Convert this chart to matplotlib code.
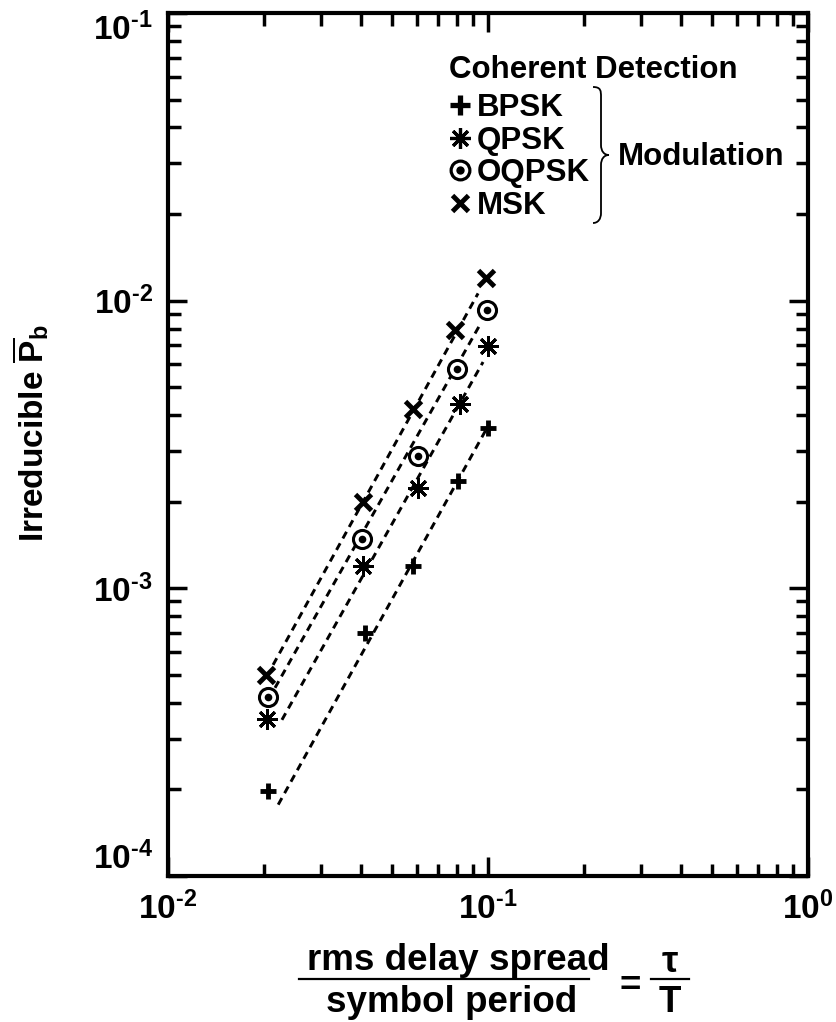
import math
import matplotlib
matplotlib.use("Agg")
import matplotlib.pyplot as plt
from matplotlib.lines import Line2D
from matplotlib.path import Path
from matplotlib.patches import PathPatch
from matplotlib.ticker import FixedLocator, FuncFormatter, LogLocator, NullFormatter

plt.rcParams['font.family'] = ['Liberation Sans', 'DejaVu Sans']
plt.rcParams['font.weight'] = 'bold'
plt.rcParams['mathtext.fontset'] = 'custom'
plt.rcParams['mathtext.rm'] = 'Liberation Sans:bold'
plt.rcParams['mathtext.bf'] = 'Liberation Sans:bold'
plt.rcParams['mathtext.it'] = 'Liberation Sans:bold:italic'
plt.rcParams['mathtext.sf'] = 'Liberation Sans:bold'

# data: tau/T vs irreducible Pb
bpsk_x = [0.0205, 0.0413, 0.0583, 0.0806, 0.100]
bpsk_y = [1.98e-4, 7.0e-4, 1.20e-3, 2.36e-3, 3.62e-3]
qpsk_x = [0.0204, 0.0406, 0.0604, 0.0817, 0.100]
qpsk_y = [3.5e-4, 1.20e-3, 2.24e-3, 4.37e-3, 6.95e-3]
oqpsk_x = [0.0205, 0.0403, 0.0604, 0.0799, 0.0993]
oqpsk_y = [4.2e-4, 1.48e-3, 2.88e-3, 5.8e-3, 9.3e-3]
msk_x = [0.0202, 0.0406, 0.0583, 0.0787, 0.0986]
msk_y = [5.0e-4, 2.0e-3, 4.2e-3, 7.9e-3, 1.2e-2]

# dashed fit lines (start / end), order: BPSK, QPSK, OQPSK, MSK
fit_x0 = [0.0221, 0.0227, 0.0216, 0.0213]
fit_y0 = [1.77e-4, 3.49e-4, 4.51e-4, 5.42e-4]
fit_x1 = [0.0986, 0.0965, 0.0951, 0.0931]
fit_y1 = [3.56e-3, 6.12e-3, 8.37e-3, 1.06e-2]

labels = ['BPSK', 'QPSK', 'OQPSK', 'MSK']

W, H = 836, 1022
fig = plt.figure(figsize=(W / 100, H / 100), dpi=100)
ax = fig.add_axes([168 / W, 1 - 876 / H, (808 - 168) / W, (876 - 13) / H])
ax.set_xscale('log')
ax.set_yscale('log')
ax.set_xlim(1e-2, 1e0)
ax.set_ylim(1e-4, 1e-1)

dash = (0, (2.6, 1.9))
for x0, y0, x1, y1 in zip(fit_x0, fit_y0, fit_x1, fit_y1):
    ax.plot([x0, x1], [y0, y1], color='black', lw=2.1, linestyle=dash)

k = 'black'
ax.plot(bpsk_x, bpsk_y, ls='none', marker='+', ms=12, mew=3.5, color=k)
ax.plot(qpsk_x, qpsk_y, ls='none', marker=(8, 2, 0), ms=15, mew=2.1, color=k)
ax.plot(oqpsk_x, oqpsk_y, ls='none', marker='o', ms=13, mew=2.2, mfc='white', mec=k)
ax.plot(oqpsk_x, oqpsk_y, ls='none', marker='o', ms=5.5, mew=0, color=k)
ax.plot(msk_x, msk_y, ls='none', marker='x', ms=11, mew=3.5, color=k)


def decade_label(v, pos):
    return r'$\mathbf{10^{\text{-%d}}}$' % abs(round(math.log10(v))) if v < 1 else r'$\mathbf{10^{0}}$'


# ticks
for axis in (ax.xaxis, ax.yaxis):
    axis.set_minor_locator(LogLocator(base=10, subs=range(2, 10)))
    axis.set_minor_formatter(NullFormatter())
ax.xaxis.set_major_locator(FixedLocator([1e-2, 1e-1, 1e0]))
ax.yaxis.set_major_locator(FixedLocator([1e-4, 1e-3, 1e-2, 1e-1]))
ax.xaxis.set_major_formatter(FuncFormatter(decade_label))
ax.yaxis.set_major_formatter(FuncFormatter(decade_label))
ax.tick_params(which='both', direction='in', top=True, right=True, width=2.5, color=k)
ax.tick_params(which='major', length=14, labelsize=24, pad=11)
ax.tick_params(which='minor', length=9)
for s in ax.spines.values():
    s.set_linewidth(3)

yticks = ax.yaxis.get_major_ticks()
yticks[-1].label1.set_verticalalignment('top')
yticks[0].label1.set_verticalalignment('bottom')


def fx(px):
    return px / W


def fy(py):
    return 1 - py / H


# y label
fig.text(fx(31), fy(433), r'Irreducible $\overline{\mathrm{P}}_\mathrm{b}$', rotation=90,
         ha='center', va='center', fontsize=24, fontweight='bold')

# x label as fraction
fs = 26.5
fig.text(fx(458), fy(970), 'rms delay spread', ha='center', va='baseline', fontsize=fs)
fig.text(fx(452), fy(1012), 'symbol period', ha='center', va='baseline', fontsize=fs)
fig.add_artist(Line2D([fx(299), fx(589)], [fy(979), fy(979)], color=k, lw=1.6,
                      transform=fig.transFigure))
fig.text(fx(630), fy(986), '=', ha='center', va='center', fontsize=fs)
fig.text(fx(670), fy(972), '\u03c4', ha='center', va='baseline', fontsize=fs)
fig.text(fx(670), fy(1012), 'T', ha='center', va='baseline', fontsize=fs)
fig.add_artist(Line2D([fx(651), fx(689)], [fy(979), fy(979)], color=k, lw=1.6,
                      transform=fig.transFigure))

# legend
fig.text(fx(449), fy(78), 'Coherent Detection', ha='left', va='baseline', fontsize=22.5)
h_bpsk = Line2D([], [], ls='none', marker='+', ms=15, mew=3.8, color=k)
h_qpsk = Line2D([], [], ls='none', marker=(8, 2, 0), ms=15, mew=2.3, color=k)
h_oq1 = Line2D([], [], ls='none', marker='o', ms=13.5, mew=2.3, mfc='white', mec=k)
h_oq2 = Line2D([], [], ls='none', marker='o', ms=6, mew=0, color=k)
h_msk = Line2D([], [], ls='none', marker='x', ms=11, mew=3.5, color=k)
leg = ax.legend([h_bpsk, h_qpsk, (h_oq1, h_oq2), h_msk], labels,
                loc='upper left', bbox_to_anchor=(fx(452), fy(93)),
                bbox_transform=fig.transFigure, frameon=False,
                fontsize=22.5, handlelength=0.5, handletextpad=0.3,
                labelspacing=0.08, borderpad=0, borderaxespad=0)

# brace and "Modulation"
bx = [593, 601, 601, 601, 601, 601, 604, 609, 604, 601, 601, 601, 601, 598, 593]
by = [87, 87, 91, 97, 145, 151, 155, 155, 155, 159, 165, 213, 219, 223, 223]
codes = [Path.MOVETO, Path.CURVE4, Path.CURVE4, Path.CURVE4, Path.LINETO,
         Path.CURVE4, Path.CURVE4, Path.CURVE4, Path.CURVE4, Path.CURVE4, Path.CURVE4,
         Path.LINETO, Path.CURVE4, Path.CURVE4, Path.CURVE4]
brace = Path([(fx(a), fy(b)) for a, b in zip(bx, by)], codes)
fig.add_artist(PathPatch(brace, fill=False, lw=1.3, ec=k, transform=fig.transFigure))
fig.text(fx(618), fy(157), 'Modulation', ha='left', va='center', fontsize=22.5)

fig.savefig('out.png', dpi=100)
